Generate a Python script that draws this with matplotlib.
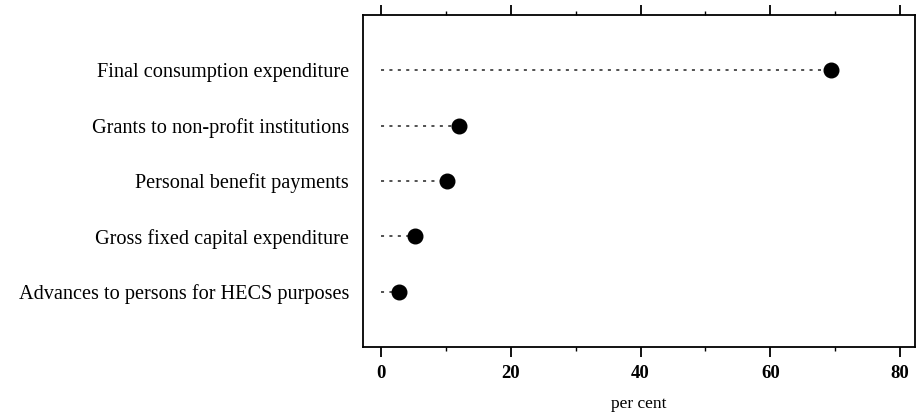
import matplotlib
matplotlib.use("Agg")
import matplotlib.pyplot as plt
from matplotlib.ticker import MultipleLocator

categories = [
    "Final consumption expenditure",
    "Grants to non-profit institutions",
    "Personal benefit payments",
    "Gross fixed capital expenditure",
    "Advances to persons for HECS purposes",
]
values = [69.4, 12.0, 10.1, 5.2, 2.8]
xticks = [0, 20, 40, 60, 80]

plt.rcParams['font.family'] = ['Liberation Serif', 'DejaVu Serif']

fig = plt.figure(figsize=(9.16, 4.12), dpi=100)
ax = fig.add_axes([363/916, 1 - 347/412, (915 - 363)/916, (347 - 15)/412])

n = len(categories)
ypos = list(range(n, 0, -1))
for y, v in zip(ypos, values):
    ax.plot([0, v], [y, y], color='#222222', lw=1.1, linestyle=(0, (2, 3.5)))
ax.plot(values, ypos, 'o', color='black', markersize=10.5, zorder=3)

ax.set_xlim(-2.8, 82.3)
ax.set_ylim(0, 6)
ax.set_xticks(xticks)
ax.set_xticklabels([str(t) for t in xticks], fontsize=13.5, fontweight='bold')
ax.xaxis.set_minor_locator(MultipleLocator(10))
ax.set_yticks(ypos)
ax.set_yticklabels(categories, fontsize=14.6)
ax.tick_params(axis='y', length=0, pad=10)
ax.tick_params(axis='x', which='major', length=7, width=1.3, direction='out',
               top=True, bottom=True, pad=6)
ax.tick_params(axis='x', which='minor', length=3, width=1, direction='out',
               top=True, bottom=True)
ax.set_xlabel("per cent", fontsize=12.5, labelpad=10)
for s in ax.spines.values():
    s.set_linewidth(1.3)

fig.savefig("out.png", dpi=100)
